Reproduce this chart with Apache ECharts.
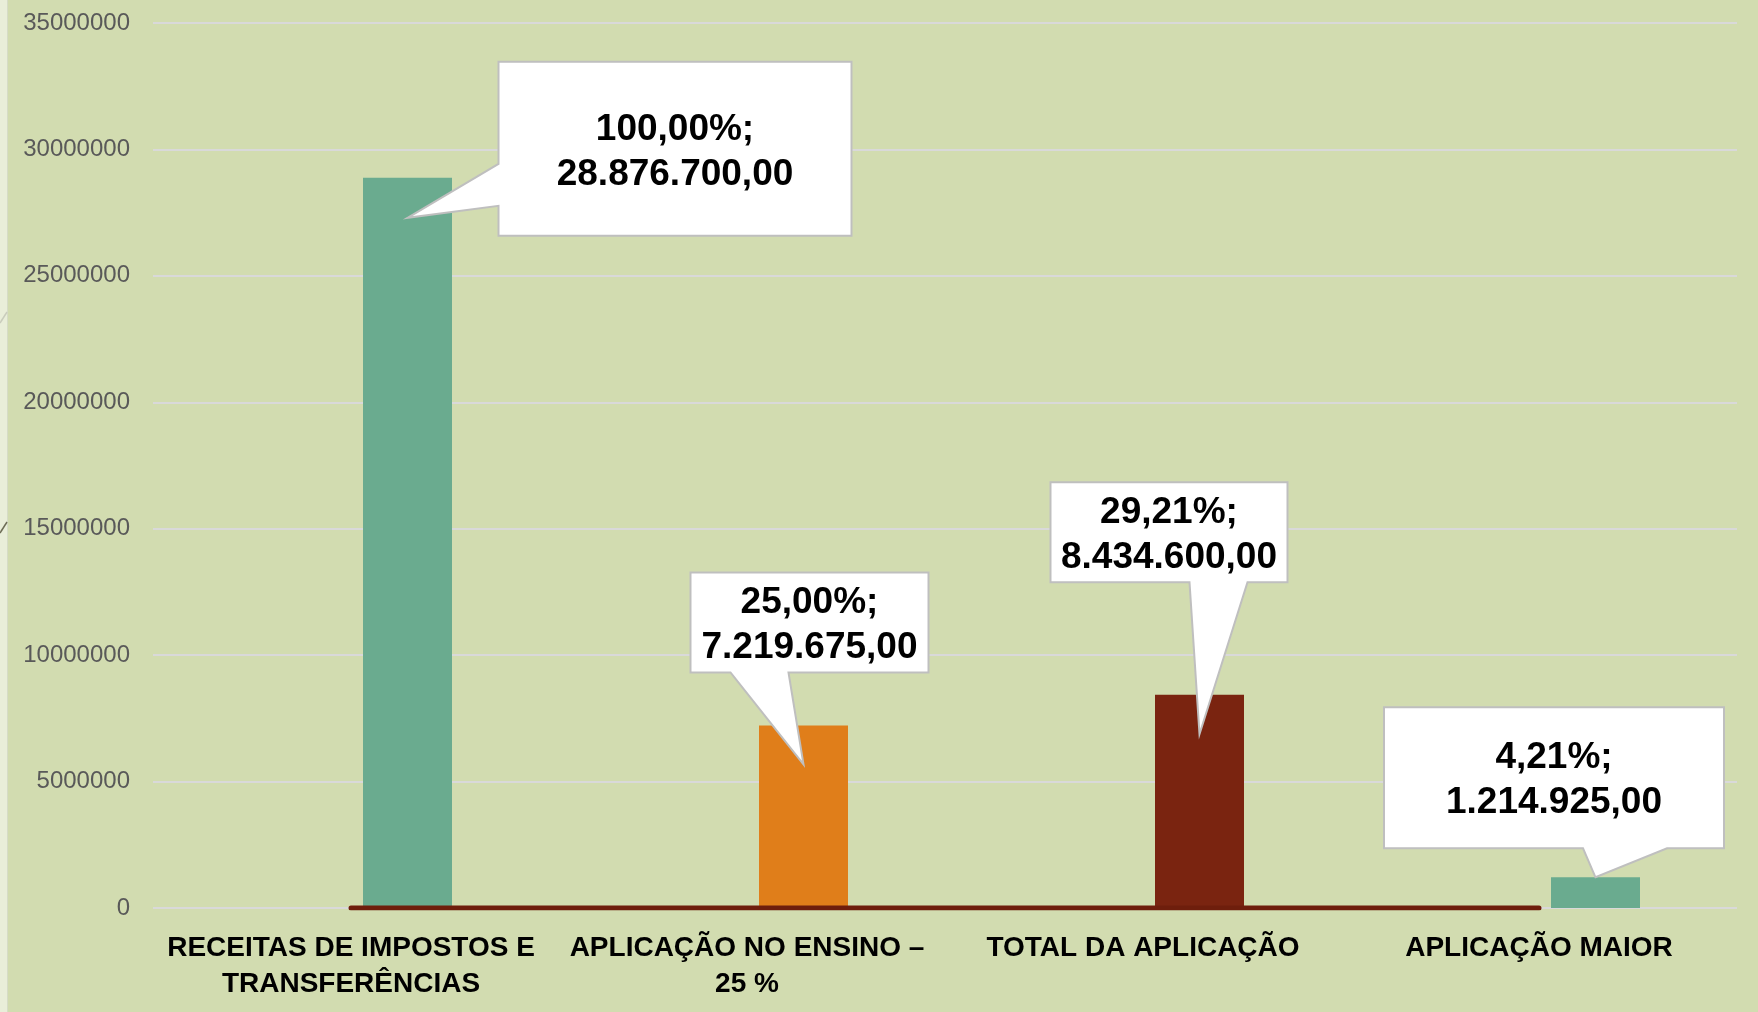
<!DOCTYPE html>
<html>
<head>
<meta charset="utf-8">
<script src="https://cdn.jsdelivr.net/npm/echarts@6/dist/echarts.min.js"></script>
<style>
html,body{margin:0;padding:0;background:#d2dcb0;}
#chart{width:1758px;height:1012px;}
</style>
</head>
<body>
<div id="chart"></div>
<script>
// ---- data ----
const categories = ['RECEITAS DE IMPOSTOS E\nTRANSFERÊNCIAS', 'APLICAÇÃO NO ENSINO –\n25 %', 'TOTAL DA APLICAÇÃO', 'APLICAÇÃO MAIOR'];
const values = [28876700, 7219675, 8434600, 1214925];
const percentLabels = ['100,00%', '25,00%', '29,21%', '4,21%'];
const baselineValues = [0, 0, 0, 0];
const yMin = 0, yMax = 35000000, yInterval = 5000000;

// ---- styles / layout ----
const barColors = ['#6aab8f', '#e07e1a', '#7a2410', '#6aab8f'];
const BAR_W = 89, BAR_GAP_PX = 24;
const BAR_OFFSET = (BAR_W + BAR_GAP_PX) / 2;
// callout layout relative to bar top-centre (pixels)
const calloutLayout = [
  {x0: 91, x1: 444, y0: -116, y1: 58, side: 'left', a: -14, b: 28, tipDy: 40},
  {x0: -113, x1: 125, y0: -153, y1: -53, side: 'bottom', a: -73, b: -15, tipDy: 39},
  {x0: -149, x1: 88, y0: -212.5, y1: -112.5, side: 'bottom', a: -10, b: 48, tipDy: 39.5},
  {x0: -211.5, x1: 128.5, y0: -170, y1: -29, side: 'bottom', a: -12.5, b: 71.5, tipDy: 0}
];

function fmtBR(n) {
  const parts = n.toFixed(2).split('.');
  return parts[0].replace(/\B(?=(\d{3})+(?!\d))/g, '.') + ',' + parts[1];
}

const chart = echarts.init(document.getElementById('chart'));
chart.setOption({
  backgroundColor: '#d2dcb0',
  animation: false,
  grid: {left: 153, right: 21, top: 23, bottom: 104, containLabel: false},
  graphic: [
    {type: 'rect', shape: {x: 0, y: 0, width: 7, height: 1012}, style: {fill: '#e9eed9'}, silent: true},
    {type: 'line', shape: {x1: 7.5, y1: 0, x2: 7.5, y2: 1012}, style: {stroke: '#d6dcc6', lineWidth: 1}, silent: true},
    {type: 'line', shape: {x1: 0, y1: 323, x2: 7, y2: 312}, style: {stroke: '#c9ccbc', lineWidth: 1.5}, silent: true},
    {type: 'line', shape: {x1: 0, y1: 533, x2: 7, y2: 522}, style: {stroke: '#6d6c55', lineWidth: 1.5}, silent: true}
  ],
  xAxis: {
    type: 'category',
    data: categories,
    axisLine: {show: false},
    axisTick: {show: false},
    axisLabel: {
      interval: 0,
      margin: 22,
      color: '#000',
      fontFamily: 'Liberation Sans, Arial, sans-serif',
      fontWeight: 'bold',
      fontSize: 28,
      lineHeight: 36
    }
  },
  yAxis: {
    type: 'value',
    min: yMin, max: yMax, interval: yInterval,
    axisLine: {show: false},
    axisTick: {show: false},
    splitLine: {lineStyle: {color: '#d9d9d9', width: 2}},
    axisLabel: {
      margin: 23,
      color: '#595959',
      fontFamily: 'Liberation Sans, Arial, sans-serif',
      fontSize: 24,
      formatter: function (v) { return String(v); }
    }
  },
  series: [
    {
      type: 'bar',
      data: values.map(() => '-'),
      barWidth: BAR_W,
      barGap: (BAR_GAP_PX / BAR_W * 100) + '%',
      silent: true
    },
    {
      type: 'bar',
      data: values.map((v, i) => ({value: v, itemStyle: {color: barColors[i]}})),
      barWidth: BAR_W,
      barGap: (BAR_GAP_PX / BAR_W * 100) + '%',
      z: 2
    },
    {
      type: 'line',
      data: baselineValues,
      symbol: 'none',
      lineStyle: {color: '#6e1e0c', width: 5, cap: 'round'},
      z: 3
    },
    {
      type: 'custom',
      data: values.map((v, i) => [i, v]),
      clip: false,
      z: 5,
      renderItem: function (params, api) {
        const i = api.value(0);
        const v = api.value(1);
        const p = api.coord([i, v]);
        const cx = p[0] + BAR_OFFSET;
        const top = p[1];
        const L = calloutLayout[i];
        const x0 = cx + L.x0, x1 = cx + L.x1, y0 = top + L.y0, y1 = top + L.y1;
        const tip = [cx, top + L.tipDy];
        let pts;
        if (L.side === 'left') {
          pts = [[x0, y0], [x1, y0], [x1, y1], [x0, y1], [x0, top + L.b], tip, [x0, top + L.a]];
        } else {
          pts = [[x0, y0], [x1, y0], [x1, y1], [cx + L.b, y1], tip, [cx + L.a, y1], [x0, y1]];
        }
        return {
          type: 'group',
          children: [
            {
              type: 'polygon',
              shape: {points: pts},
              style: {fill: '#ffffff', stroke: '#bfbfbf', lineWidth: 2, lineJoin: 'miter'}
            },
            {
              type: 'text',
              x: (x0 + x1) / 2,
              y: (y0 + y1) / 2 + 3,
              style: {
                text: percentLabels[i] + ';\n' + fmtBR(v),
                fill: '#000',
                font: 'bold 37px "Liberation Sans", Arial, sans-serif',
                align: 'center',
                verticalAlign: 'middle',
                lineHeight: 45
              }
            }
          ]
        };
      }
    }
  ]
});
</script>
</body>
</html>
